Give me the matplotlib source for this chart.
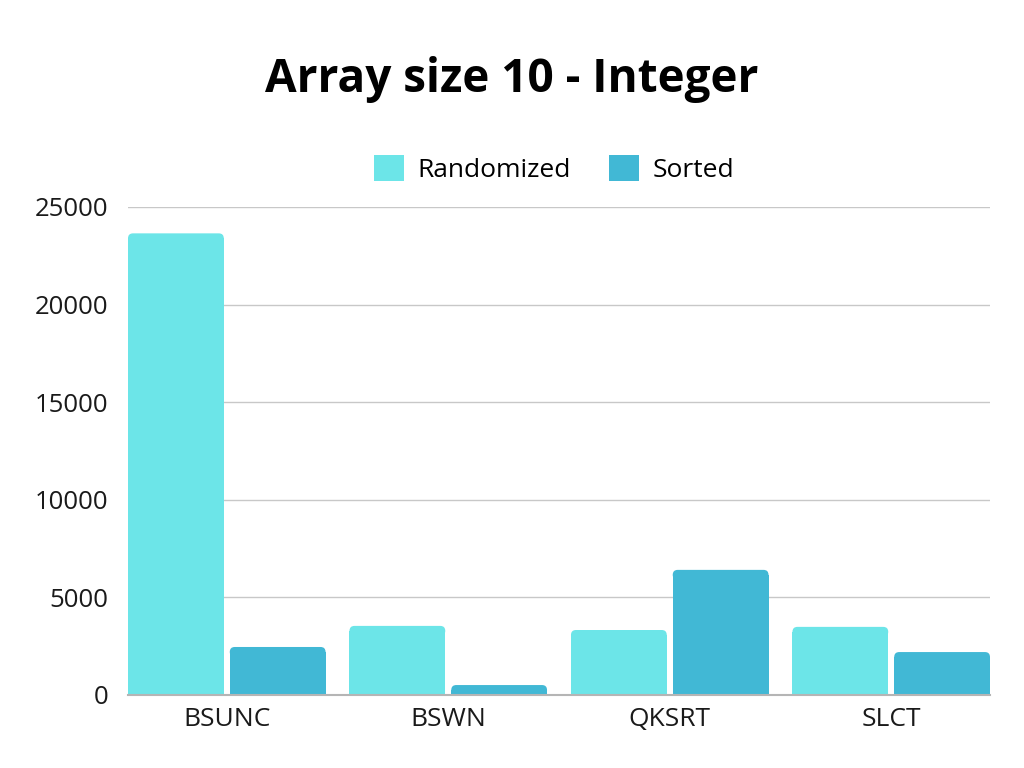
import matplotlib
matplotlib.use("Agg")
import matplotlib.pyplot as plt
import numpy as np
from matplotlib.patches import Patch, FancyBboxPatch

categories = ["BSUNC", "BSWN", "QKSRT", "SLCT"]
randomized = [23650, 3540, 3330, 3490]
sorted_vals = [2460, 510, 6410, 2200]
series_labels = ["Randomized", "Sorted"]
yticks = [0, 5000, 10000, 15000, 20000, 25000]

COLORS = ["#6ce5e8", "#41b8d5"]

plt.rcParams["font.family"] = ["Open Sans", "DejaVu Sans"]

fig = plt.figure(figsize=(10.24, 7.68), dpi=100)
ax = fig.add_axes([128 / 1024, (768 - 695) / 768, (990 - 128) / 1024, (695 - 207) / 768])

x = np.arange(len(categories))
width = 96 / 222
gap = 6 / 222
bars_r = ax.bar(x - (width + gap) / 2, randomized, width, color=COLORS[0], zorder=3)
bars_s = ax.bar(x + (width + gap) / 2, sorted_vals, width, color=COLORS[1], zorder=3)

ax.set_xlim(-0.446, len(categories) - 1 + 0.446)
ax.set_ylim(0, 25000)

# rounded top corners (~5 px radius)
rx = 5 / 222
ry = 5 * 25000 / 488
for container, color in ((bars_r, COLORS[0]), (bars_s, COLORS[1])):
    for rect in container:
        x0, w, h = rect.get_x(), rect.get_width(), rect.get_height()
        rect.set_height(h - ry)
        ax.add_patch(FancyBboxPatch((x0, h - 2 * ry), w, 2 * ry,
                                    boxstyle=f"round,pad=0,rounding_size={rx}",
                                    mutation_aspect=ry / rx, facecolor=color,
                                    edgecolor="none", zorder=3))

ax.set_xticks(x)
ax.set_xticklabels(categories)
ax.set_yticks(yticks)
ax.tick_params(axis="both", length=0, colors="#1a1a1a")
ax.tick_params(axis="x", labelsize=19, pad=9)
ax.tick_params(axis="y", labelsize=18.5, pad=14)
ax.grid(axis="y", color="#c8c8c8", linewidth=1.0, zorder=0)
for side in ("top", "right", "left"):
    ax.spines[side].set_visible(False)
ax.spines["bottom"].set_color("#b5b5b5")
ax.spines["bottom"].set_linewidth(1.5)
ax.spines["bottom"].set_zorder(4)

fig.text(0.5, 0.896, "Array size 10 - Integer", ha="center", va="center",
         fontsize=33, fontweight="bold", color="#000000")

handles = [Patch(facecolor=c, edgecolor="none", label=l) for c, l in zip(COLORS, series_labels)]
fig.legend(handles=handles, loc="center", bbox_to_anchor=(0.541, 0.78), ncol=2,
           frameon=False, fontsize=19, handlelength=1.15, handleheight=1.15,
           handletextpad=0.5, columnspacing=1.45)

fig.savefig("out.png", dpi=100)
